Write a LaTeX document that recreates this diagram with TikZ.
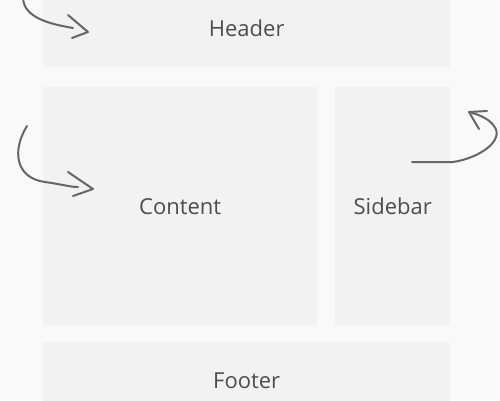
\documentclass[tikz,border=0pt]{standalone}
\usepackage{fontspec}
\setmainfont{Open Sans}
\usetikzlibrary{positioning}
\definecolor{pagebg}{HTML}{F9F9F9}
\definecolor{boxfill}{HTML}{F2F2F2}
\definecolor{labelgray}{HTML}{4D4D4D}
\definecolor{pencil}{HTML}{666666}
\tikzset{>=stealth}
\tikzset{
  block/.style={fill=boxfill, draw=none, inner sep=0pt, anchor=north west,
    text=labelgray, font=\fontsize{22}{26}\selectfont},
  scribble/.style={pencil, line width=2pt, line cap=round, line join=round},
}

\begin{document}
\begin{tikzpicture}[x=1pt, y=-1pt]
\useasboundingbox (0,0) rectangle (500,400);
\fill[pagebg] (0,0) rectangle (500,400);
\clip (0,0) rectangle (500,400);
% page blocks
\node[block, minimum width=407pt, minimum height=78pt] (header) at (43,-11) {Header};
\node[block, minimum width=274pt, minimum height=238pt] (content) at (43,87) {Content};
\node[block, minimum width=115pt, minimum height=238pt] (sidebar) at (335,87) {Sidebar};
\node[block, minimum width=407pt, minimum height=78pt] (footer) at (43,342) {Footer};
% hand drawn arrows
\draw[scribble] (23,-2) .. controls (24,18) and (50,24) .. (73,28);
\draw[scribble] (68,15) -- (88,32) -- (72,38);
\draw[scribble] (27,126) .. controls (12,150) and (15,178) .. (45,182)
  .. controls (60,184) and (70,187) .. (78,187);
\draw[scribble] (68,172) -- (93,189) -- (73,196);
\draw[scribble] (412,162) -- (453,162) .. controls (480,158) and (505,140) .. (494,126)
  .. controls (489,119) and (480,115) .. (472,113);
\draw[scribble] (487,111) -- (469,112) -- (479,129);
\end{tikzpicture}
\end{document}
